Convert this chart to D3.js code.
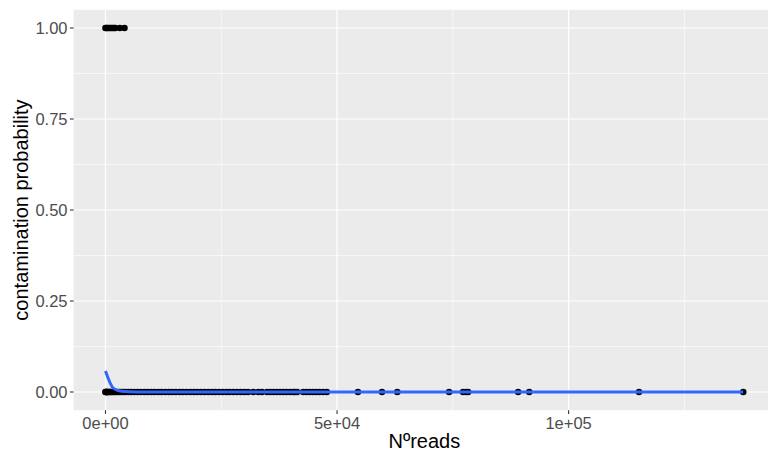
<!DOCTYPE html>
<html>
<head>
<meta charset="utf-8">
<script src="https://cdn.jsdelivr.net/npm/d3@7"></script>
<style>
  body { margin: 0; background: #fff; }
  svg { display: block; font-family: "Liberation Sans", Arial, Helvetica, sans-serif; }
</style>
</head>
<body>
<svg width="768" height="452"></svg>
<script>
// reads for samples with contamination probability 0
var readsZero = [0, 50, 120, 200, 300, 450, 600, 800, 1000, 1250, 1500, 1800, 2100, 2500, 2900,
  3300, 3800, 4300, 4900, 5500, 6200, 6900, 7600, 8400, 9100, 9900, 10600, 11400, 12100,
  12900, 13700, 14400, 15200, 16000, 16700, 17500, 18300, 19100, 19800, 20600, 21400,
  22200, 23000, 23700, 24500, 25300, 26100, 26800, 27600, 28400, 29200, 30000, 30800,
  31900, 33000, 33800, 34900, 35600, 36300, 37000, 37700, 38400, 39100, 39800, 40500,
  40900, 41400, 42700, 43400, 44100, 44800, 45500, 46200, 47000, 47800,
  54500, 59700, 63000, 74200, 77200, 77800, 78300, 89100, 91500, 115200, 137700];
// reads for samples with contamination probability 1
var readsOne = [0, 150, 400, 700, 1000, 1300, 1600, 1900, 2100, 3100, 4100];
// smoothed fit
var smoothX = [0, 1743, 3486, 5229, 8000, 137700];
var smoothY = [0.058, 0.010, 0.002, 0.0005, 0, 0];

var xTicks = [0, 50000, 100000];
var xTickLabels = ["0e+00", "5e+04", "1e+05"];
var xMinor = [25000, 75000, 125000];
var yTicks = [0, 0.25, 0.5, 0.75, 1];
var yTickLabels = ["0.00", "0.25", "0.50", "0.75", "1.00"];
var yMinor = [0.125, 0.375, 0.625, 0.875];

var svg = d3.select("svg");

var xMax = 137700;
var pad = xMax * 0.05;
var x = d3.scaleLinear().domain([-pad, xMax + pad]).range([73.6, 775.1]);
var y = d3.scaleLinear().domain([-0.05, 1.05]).range([410.2, 9.8]);

var x0 = x.range()[0], x1 = x.range()[1];
var y0 = y.range()[1], y1 = y.range()[0];

svg.append("rect")
  .attr("x", x0).attr("y", y0)
  .attr("width", x1 - x0).attr("height", y1 - y0)
  .attr("fill", "#EBEBEB");

// minor grid
svg.selectAll(".gxm").data(xMinor).enter().append("line")
  .attr("x1", d => x(d)).attr("x2", d => x(d))
  .attr("y1", y0).attr("y2", y1)
  .attr("stroke", "#fff").attr("stroke-width", 0.6);
svg.selectAll(".gym").data(yMinor).enter().append("line")
  .attr("x1", x0).attr("x2", x1)
  .attr("y1", d => y(d)).attr("y2", d => y(d))
  .attr("stroke", "#fff").attr("stroke-width", 0.6);

// major grid
svg.selectAll(".gx").data(xTicks).enter().append("line")
  .attr("x1", d => x(d)).attr("x2", d => x(d))
  .attr("y1", y0).attr("y2", y1)
  .attr("stroke", "#fff").attr("stroke-width", 1.2);
svg.selectAll(".gy").data(yTicks).enter().append("line")
  .attr("x1", x0).attr("x2", x1)
  .attr("y1", d => y(d)).attr("y2", d => y(d))
  .attr("stroke", "#fff").attr("stroke-width", 1.2);

// points
var pts = readsZero.map(r => ({r: r, p: 0})).concat(readsOne.map(r => ({r: r, p: 1})));
svg.append("g").selectAll("circle").data(pts).enter().append("circle")
  .attr("cx", d => x(d.r))
  .attr("cy", d => y(d.p))
  .attr("r", 3.3)
  .attr("fill", "#000");

// smooth line
var line = d3.line()
  .x((d, i) => x(smoothX[i]))
  .y(d => y(d))
  .curve(d3.curveMonotoneX);
svg.append("path")
  .datum(smoothY)
  .attr("d", line)
  .attr("fill", "none")
  .attr("stroke", "#3366FF")
  .attr("stroke-width", 3);

// axes ticks + labels
svg.selectAll(".tx").data(xTicks).enter().append("line")
  .attr("x1", d => x(d)).attr("x2", d => x(d))
  .attr("y1", y1).attr("y2", y1 + 3.7)
  .attr("stroke", "#333").attr("stroke-width", 1.1);
svg.selectAll(".lx").data(xTicks).enter().append("text")
  .attr("x", d => x(d)).attr("y", 429.3)
  .attr("text-anchor", "middle")
  .attr("font-size", 16.5)
  .attr("fill", "#4D4D4D")
  .text((d, i) => xTickLabels[i]);

svg.selectAll(".ty").data(yTicks).enter().append("line")
  .attr("x1", x0 - 3.7).attr("x2", x0)
  .attr("y1", d => y(d)).attr("y2", d => y(d))
  .attr("stroke", "#333").attr("stroke-width", 1.1);
svg.selectAll(".ly").data(yTicks).enter().append("text")
  .attr("x", 67.5).attr("y", d => y(d))
  .attr("dy", "0.35em")
  .attr("text-anchor", "end")
  .attr("font-size", 16.5)
  .attr("fill", "#4D4D4D")
  .text((d, i) => yTickLabels[i]);

// titles
svg.append("text")
  .attr("x", (x0 + x1) / 2).attr("y", 447.5)
  .attr("text-anchor", "middle")
  .attr("font-size", 20)
  .attr("fill", "#000")
  .text("Nºreads");

svg.append("text")
  .attr("transform", "translate(28," + ((y0 + y1) / 2) + ") rotate(-90)")
  .attr("text-anchor", "middle")
  .attr("font-size", 20)
  .attr("fill", "#000")
  .text("contamination probability");
</script>
</body>
</html>
